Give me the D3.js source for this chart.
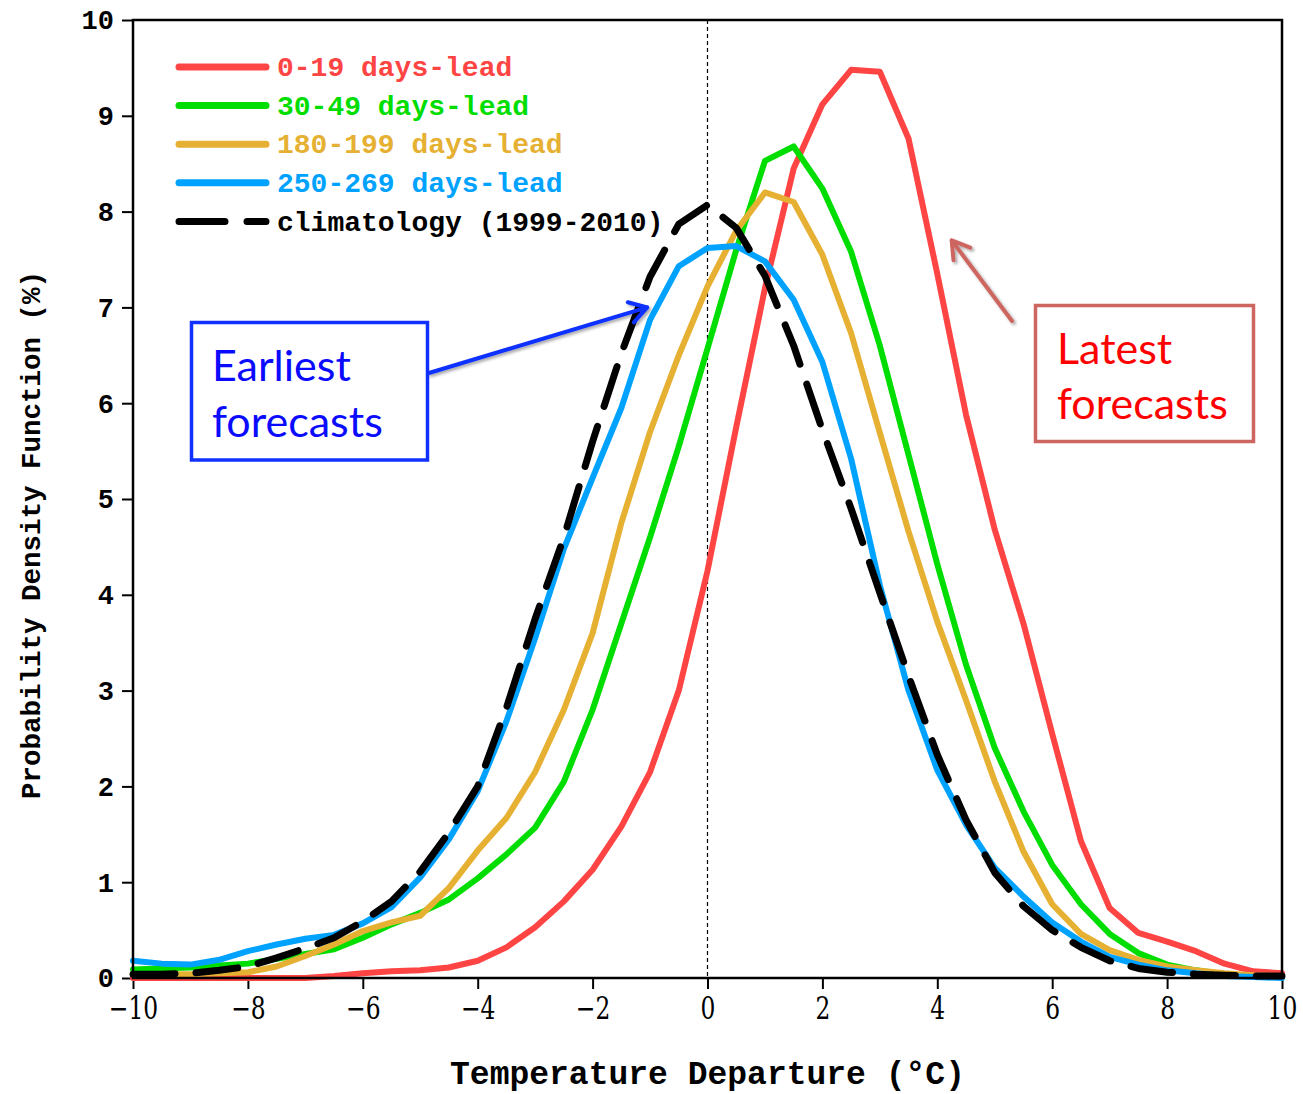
<!DOCTYPE html>
<html>
<head>
<meta charset="utf-8">
<script src="https://cdn.jsdelivr.net/npm/d3@7"></script>
<style>
  html, body { margin: 0; padding: 0; background: #fff; }
  svg { display: block; }
</style>
</head>
<body>
<svg id="chart" width="1303" height="1094"></svg>
<script>
// ---------------- DATA ----------------
const temps = [-10, -9.5, -9, -8.5, -8, -7.5, -7, -6.5, -6, -5.5, -5, -4.5, -4, -3.5, -3, -2.5, -2, -1.5, -1, -0.5,
  0, 0.5, 1, 1.5, 2, 2.5, 3, 3.5, 4, 4.5, 5, 5.5, 6, 6.5, 7, 7.5, 8, 8.5, 9, 9.5, 10];

const lead0_19 = [0.0, 0.0, 0.0, 0.0, 0.0, 0.0, 0.0, 0.02, 0.05, 0.07, 0.08, 0.11, 0.18, 0.32, 0.53, 0.8, 1.13, 1.58, 2.15, 3.0,
  4.25, 5.75, 7.2, 8.45, 9.12, 9.48, 9.46, 8.76, 7.35, 5.88, 4.68, 3.7, 2.55, 1.43, 0.73, 0.47, 0.38, 0.28, 0.15, 0.07, 0.05];

const lead30_49 = [0.09, 0.1, 0.11, 0.13, 0.15, 0.2, 0.25, 0.3, 0.42, 0.56, 0.68, 0.82, 1.04, 1.29, 1.57, 2.05, 2.8, 3.7, 4.6, 5.55,
  6.57, 7.6, 8.53, 8.68, 8.24, 7.58, 6.6, 5.46, 4.32, 3.27, 2.4, 1.74, 1.18, 0.77, 0.46, 0.26, 0.14, 0.08, 0.04, 0.02, 0.01];

const lead180_199 = [0.04, 0.04, 0.04, 0.05, 0.06, 0.12, 0.23, 0.35, 0.49, 0.58, 0.65, 0.94, 1.33, 1.67, 2.15, 2.8, 3.6, 4.75, 5.7, 6.5,
  7.22, 7.8, 8.2, 8.1, 7.55, 6.73, 5.69, 4.66, 3.72, 2.9, 2.05, 1.32, 0.77, 0.46, 0.29, 0.19, 0.12, 0.08, 0.05, 0.03, 0.02];

const lead250_269 = [0.18, 0.15, 0.14, 0.19, 0.28, 0.35, 0.41, 0.45, 0.57, 0.74, 1.05, 1.45, 1.95, 2.68, 3.55, 4.48, 5.22, 5.95, 6.87, 7.43,
  7.62, 7.64, 7.48, 7.08, 6.43, 5.42, 4.1, 3.0, 2.17, 1.6, 1.15, 0.85, 0.58, 0.38, 0.22, 0.14, 0.08, 0.05, 0.02, 0.01, 0.0];

const climatology = [0.04, 0.04, 0.05, 0.08, 0.12, 0.21, 0.31, 0.42, 0.59, 0.8, 1.11, 1.52, 2.0, 2.82, 3.75, 4.6, 5.6, 6.52, 7.32, 7.87,
  8.07, 7.83, 7.33, 6.6, 5.72, 4.9, 4.02, 3.15, 2.33, 1.65, 1.1, 0.75, 0.5, 0.32, 0.18, 0.1, 0.06, 0.04, 0.03, 0.02, 0.02];

const seriesNames = ["0-19 days-lead", "30-49 days-lead", "180-199 days-lead", "250-269 days-lead", "climatology (1999-2010)"];
const seriesValues = [lead0_19, lead30_49, lead180_199, lead250_269, climatology];
const seriesColors = ["#ff4444", "#00dd00", "#e6b033", "#00a2ff", "#000000"];
const seriesDashed = [false, false, false, false, true];

const xTicks = [-10, -8, -6, -4, -2, 0, 2, 4, 6, 8, 10];
const yTicks = [0, 1, 2, 3, 4, 5, 6, 7, 8, 9, 10];

const xTitle = "Temperature Departure (°C)";
const yTitle = "Probability Density Function (%)";

// ---------------- LAYOUT ----------------
const svg = d3.select("#chart");
const margin = { left: 133, top: 20, right: 21, bottom: 116 };
const W = 1303 - margin.left - margin.right;
const H = 1094 - margin.top - margin.bottom;

const x = d3.scaleLinear().domain([-10, 10]).range([0, W]);
const y = d3.scaleLinear().domain([0, 10]).range([H, 0]);

const defs = svg.append("defs");
const shadow = defs.append("filter").attr("id", "shadow").attr("x", "-20%").attr("y", "-20%").attr("width", "140%").attr("height", "140%");
shadow.append("feDropShadow").attr("dx", 2).attr("dy", 2).attr("stdDeviation", 1.5).attr("flood-color", "#000").attr("flood-opacity", 0.35);

const g = svg.append("g").attr("transform", `translate(${margin.left},${margin.top})`);

// zero dashed line
g.append("line")
  .attr("x1", x(0)).attr("x2", x(0)).attr("y1", 0).attr("y2", H)
  .attr("stroke", "#000").attr("stroke-width", 1.2).attr("stroke-dasharray", "4,3");

// axes
const xAxis = d3.axisBottom(x).tickValues(xTicks).tickSize(11).tickFormat(d => d < 0 ? "\u2212" + Math.abs(d) : d);
const yAxis = d3.axisLeft(y).tickValues(yTicks).tickSize(11).tickFormat(d3.format("d"));

const gx = g.append("g").attr("transform", `translate(0,${H})`).call(xAxis);
gx.select(".domain").remove();
gx.selectAll(".tick line").attr("stroke", "#000").attr("stroke-width", 2);
gx.selectAll(".tick text")
  .attr("fill", "#000")
  .attr("font-family", "'DejaVu Serif Condensed', 'Liberation Serif', serif")
  .attr("font-size", 26)
  .attr("y", 0)
  .attr("dy", null)
  .attr("transform", "translate(0,41) scale(1,1.22)");

const gy = g.append("g").call(yAxis);
gy.select(".domain").remove();
gy.selectAll(".tick line").attr("stroke", "#000").attr("stroke-width", 2);
gy.selectAll(".tick text")
  .attr("fill", "#000")
  .attr("font-family", "'Liberation Mono', monospace")
  .attr("font-weight", "bold")
  .attr("font-size", 27)
  .attr("x", -19)
  .attr("dy", "0.33em");

// series lines
const line = d3.line().x((d, i) => x(temps[i])).y(d => y(d));
seriesValues.forEach((vals, k) => {
  g.append("path")
    .datum(vals)
    .attr("d", line)
    .attr("fill", "none")
    .attr("stroke", seriesColors[k])
    .attr("stroke-width", seriesDashed[k] ? 7 : 6)
    .attr("stroke-linejoin", "round")
    .attr("stroke-linecap", "round")
    .attr("stroke-dasharray", seriesDashed[k] ? "42,21" : null);
});

// frame
g.append("rect").attr("x", 0).attr("y", 0).attr("width", W).attr("height", H)
  .attr("fill", "none").attr("stroke", "#000").attr("stroke-width", 2.5);

// legend
const legend = g.append("g").attr("transform", `translate(${179 - margin.left},${67 - margin.top})`);
seriesNames.forEach((name, k) => {
  const row = legend.append("g").attr("transform", `translate(0,${k * 38.6})`);
  row.append("line").attr("x1", 0).attr("x2", 87).attr("y1", 0).attr("y2", 0)
    .attr("stroke", seriesColors[k]).attr("stroke-width", 7).attr("stroke-linecap", "round")
    .attr("stroke-dasharray", seriesDashed[k] ? "46,22" : null);
  row.append("text").attr("x", 98).attr("y", 0).attr("dy", "0.33em")
    .attr("fill", seriesColors[k])
    .attr("font-family", "'Liberation Mono', monospace")
    .attr("font-weight", "bold")
    .attr("font-size", 28)
    .text(name);
});

// axis titles
svg.append("text")
  .attr("x", margin.left + x(0)).attr("y", 1084)
  .attr("text-anchor", "middle")
  .attr("font-family", "'Liberation Mono', monospace").attr("font-weight", "bold")
  .attr("font-size", 33)
  .text(xTitle);

svg.append("text")
  .attr("transform", `translate(40,535) rotate(-90)`)
  .attr("text-anchor", "middle")
  .attr("font-family", "'Liberation Mono', monospace").attr("font-weight", "bold")
  .attr("font-size", 27.5)
  .text(yTitle);

// annotations: Earliest forecasts (blue)
const blue = "#1030ff";
const ann = svg.append("g");
ann.append("rect").attr("x", 191.5).attr("y", 322.5).attr("width", 236).attr("height", 137.5)
  .attr("fill", "#fff").attr("stroke", blue).attr("stroke-width", 3.5);
ann.append("text").attr("x", 212).attr("y", 381).attr("fill", "#0a0aff")
  .attr("font-family", "Lato, 'Open Sans', sans-serif").attr("font-size", 43).text("Earliest");
ann.append("text").attr("x", 212).attr("y", 437).attr("fill", "#0a0aff")
  .attr("font-family", "Lato, 'Open Sans', sans-serif").attr("font-size", 43).text("forecasts");

function arrow(parent, x1, y1, x2, y2, color, head) {
  const ang = Math.atan2(y2 - y1, x2 - x1);
  const a1 = ang + Math.PI - 0.55, a2 = ang + Math.PI + 0.55;
  const p = `M${x1},${y1}L${x2},${y2}M${x2 + head * Math.cos(a1)},${y2 + head * Math.sin(a1)}L${x2},${y2}L${x2 + head * Math.cos(a2)},${y2 + head * Math.sin(a2)}`;
  parent.append("path").attr("d", p).attr("fill", "none").attr("stroke", color)
    .attr("stroke-width", 4).attr("stroke-linecap", "round").attr("stroke-linejoin", "round")
    .attr("filter", "url(#shadow)");
}
arrow(ann, 429, 373, margin.left + x(-1.05), margin.top + y(7.0), blue, 20);

// annotations: Latest forecasts (red)
const redBox = "#cd6560";
ann.append("rect").attr("x", 1035.5).attr("y", 305.5).attr("width", 218).attr("height", 136)
  .attr("fill", "#fff").attr("stroke", redBox).attr("stroke-width", 3.5);
ann.append("text").attr("x", 1057).attr("y", 364).attr("fill", "#ff0000")
  .attr("font-family", "Lato, 'Open Sans', sans-serif").attr("font-size", 43).text("Latest");
ann.append("text").attr("x", 1057).attr("y", 419).attr("fill", "#ff0000")
  .attr("font-family", "Lato, 'Open Sans', sans-serif").attr("font-size", 43).text("forecasts");
arrow(ann, 1012, 321, margin.left + x(4.25), margin.top + y(7.7), redBox, 20);
</script>
</body>
</html>
